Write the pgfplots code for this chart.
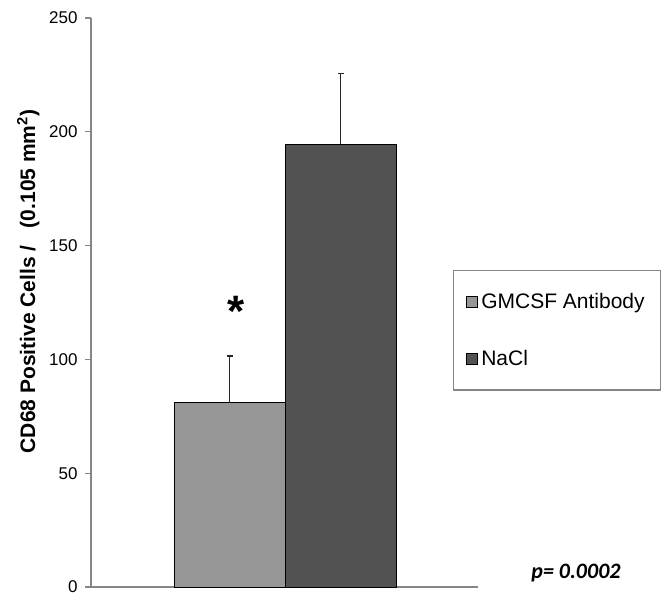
\documentclass[border=0pt]{standalone}
\usepackage{fontspec}
\setmainfont{Liberation Sans}
\newfontfamily\calibri{Carlito}
\usepackage{pgfplots}
\pgfplotsset{compat=1.18}

\definecolor{barlight}{HTML}{969696}
\definecolor{bardark}{HTML}{525252}
\definecolor{axgray}{HTML}{868686}

\pgfplotsset{
  sqlegend/.style={legend image code/.code={
    \draw[##1, draw=black, line width=0.8pt] (0pt,-5.5pt) rectangle (11pt,5.5pt);}},
}

\begin{document}
\begin{tikzpicture}
\begin{axis}[
  name=ax,
  scale only axis,
  width=387pt, height=569pt,
  xmin=0, xmax=387, ymin=0, ymax=250,
  axis x line*=bottom, axis y line*=left,
  axis line style={axgray, line width=1.3pt, -},
  xtick=\empty,
  ytick={0,50,...,250},
  tick style={axgray, line width=1.3pt},
  ytick pos=left,
  tick align=outside,
  major tick length=6pt,
  yticklabel style={font=\fontsize{17}{20}\selectfont, xshift=-4pt},
  /pgf/number format/assume math mode=true,
  ylabel={\textbf{CD68 Positive Cells /~~~(0.105 mm\textsuperscript{2})}},
  ylabel style={font=\fontsize{21}{24}\selectfont, at={(rel axis cs:-0.162,0.537)}, anchor=center},
  ybar, bar width=111, bar shift=0pt,
  clip=false,
  legend style={at={(rel axis cs:0.935,0.557)}, anchor=north west,
    draw=axgray, line width=1.3pt, font=\fontsize{21}{24}\selectfont,
    nodes={inner xsep=3pt},
    inner xsep=13pt, inner ysep=21pt, row sep=36pt},
  legend cell align=left,
]
\addplot[fill=barlight, draw=black, line width=0.8pt, sqlegend,
  error bars/.cd, y dir=plus, y explicit,
  error bar style={line width=1.1pt, black!85},
  error mark options={rotate=90, mark size=3pt, line width=1.1pt, black!85}]
  coordinates {(138.5,81) +- (0,20.5)};
\addplot[fill=bardark, draw=black, line width=0.8pt, sqlegend,
  error bars/.cd, y dir=plus, y explicit,
  error bar style={line width=1.1pt, black!85},
  error mark options={rotate=90, mark size=3pt, line width=1.1pt, black!85}]
  coordinates {(249.5,194.6) +- (0,31.2)};
\legend{GMCSF Antibody, NaCl}
\node at (axis cs:145,121) {\fontsize{44}{44}\selectfont\bfseries *};
\node at (axis cs:485,6) {\fontsize{22}{26}\selectfont\calibri\bfseries\itshape p= 0.0002};
\end{axis}
\path ([shift={(-91pt,-5pt)}]ax.south west) rectangle ++(672pt,592pt);
\end{tikzpicture}
\end{document}
